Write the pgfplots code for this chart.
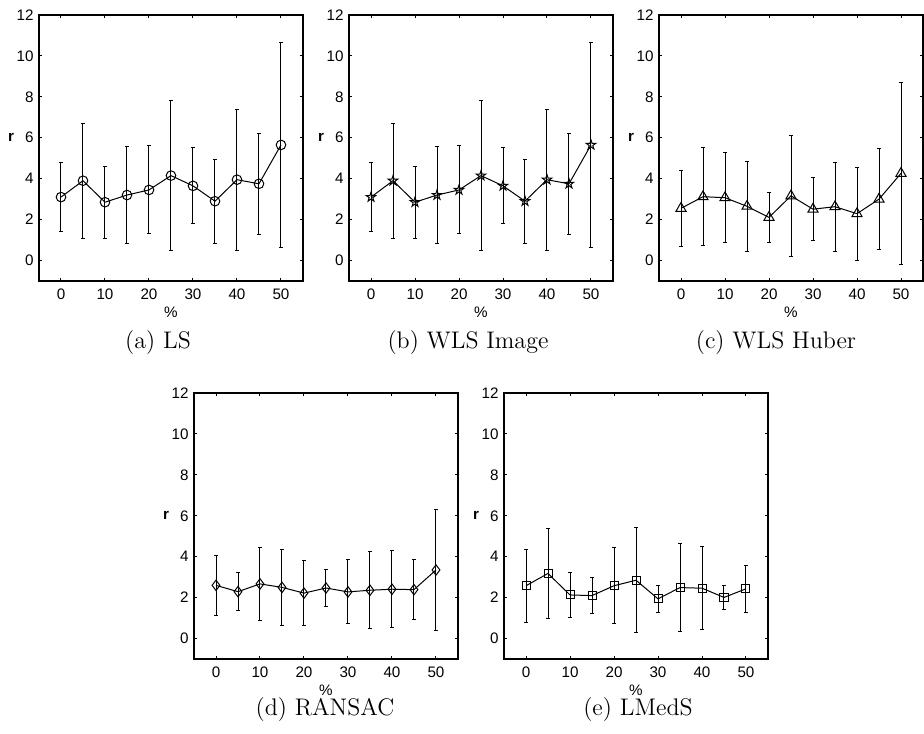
\documentclass[border=0pt]{standalone}
\usepackage{fontspec}
\setsansfont{Liberation Sans}
\usepackage{pgfplots}
\usepackage{pgfplotstable}
\pgfplotsset{compat=1.18}

% five-pointed star like matlab's 'p' marker
\pgfdeclareplotmark{pentagram}{%
  \pgfpathmoveto{\pgfpointpolar{90}{\pgfplotmarksize}}%
  \pgfpathlineto{\pgfpointpolar{126}{0.382\pgfplotmarksize}}%
  \pgfpathlineto{\pgfpointpolar{162}{\pgfplotmarksize}}%
  \pgfpathlineto{\pgfpointpolar{198}{0.382\pgfplotmarksize}}%
  \pgfpathlineto{\pgfpointpolar{234}{\pgfplotmarksize}}%
  \pgfpathlineto{\pgfpointpolar{270}{0.382\pgfplotmarksize}}%
  \pgfpathlineto{\pgfpointpolar{306}{\pgfplotmarksize}}%
  \pgfpathlineto{\pgfpointpolar{342}{0.382\pgfplotmarksize}}%
  \pgfpathlineto{\pgfpointpolar{18}{\pgfplotmarksize}}%
  \pgfpathlineto{\pgfpointpolar{54}{0.382\pgfplotmarksize}}%
  \pgfpathclose\pgfusepathqstroke}

% mean and std of r for each outlier percentage
\pgfplotstableread{
x  y    e
0  3.10 1.70
5  3.90 2.80
10 2.85 1.75
15 3.20 2.35
20 3.45 2.15
25 4.15 3.65
30 3.65 1.85
35 2.90 2.05
40 3.95 3.45
45 3.75 2.48
50 5.65 5.00
}\tabLS

\pgfplotstableread{
x  y    e
0  2.55 1.85
5  3.12 2.40
10 3.07 2.21
15 2.65 2.19
20 2.11 1.21
25 3.16 2.96
30 2.51 1.55
35 2.63 2.17
40 2.29 2.27
45 3.00 2.47
50 4.26 4.45
}\tabHuber

\pgfplotstableread{
x  y    e
0  2.60 1.47
5  2.29 0.93
10 2.67 1.79
15 2.50 1.85
20 2.22 1.57
25 2.47 0.88
30 2.28 1.56
35 2.36 1.88
40 2.41 1.89
45 2.39 1.47
50 3.35 2.95
}\tabRansac

\pgfplotstableread{
x  y    e
0  2.58 1.78
5  3.18 2.18
10 2.13 1.08
15 2.10 0.90
20 2.58 1.86
25 2.85 2.57
30 1.94 0.65
35 2.49 2.14
40 2.46 2.03
45 2.01 0.59
50 2.43 1.15
}\tabLMedS

\pgfplotsset{
  panel/.style={
    scale only axis, width=132pt, height=133pt,
    anchor=south west, clip=false,
    xmin=-5, xmax=55, ymin=-1, ymax=12,
    xtick={0,10,...,50}, ytick={0,2,...,12},
    tick align=inside, major tick length=1.7pt,
    every tick/.style={black, line width=0.5pt},
    axis line style={line width=1pt},
    tick label style={font=\fontsize{7.6}{9}\selectfont\sffamily,
      /pgf/number format/assume math mode=true},
    xticklabel style={inner sep=0pt, yshift=-3.8pt},
    yticklabel style={inner sep=0pt, xshift=-2.5pt},
  },
  ser/.style 2 args={black, line width=0.5pt, mark=#1, mark size=#2,
    mark options={solid, line width=0.5pt},
    error bars/y dir=both, error bars/y explicit,
    error bars/error bar style={line width=0.5pt, black},
    error bars/error mark options={rotate=90, mark size=0.9pt, line width=0.5pt}},
}
\newcommand{\labs}{%
  \node[font=\fontsize{7.6}{9}\selectfont\sffamily\bfseries] at (rel axis cs:0,0.54) [xshift=-14pt] {r};
  \node[font=\fontsize{7.6}{9}\selectfont\sffamily] at (rel axis cs:0.5,0) [yshift=-15.5pt] {\%};
}

\begin{document}
\begin{tikzpicture}
\path[use as bounding box] (0pt,0pt) rectangle (462pt,366.5pt);

% ---- top row ----
\begin{axis}[panel, at={(19.5pt,226pt)}]
\addplot[ser={o}{2.4pt}] table[x=x, y=y, y error=e] {\tabLS};
\labs
\end{axis}

\begin{axis}[panel, at={(174.5pt,226pt)}]
\addplot[ser={pentagram}{2.5pt}] table[x=x, y=y, y error=e] {\tabLS};
\labs
\end{axis}

\begin{axis}[panel, at={(329.5pt,226pt)}]
\addplot[ser={triangle}{2.9pt}] table[x=x, y=y, y error=e] {\tabHuber};
\labs
\end{axis}

% ---- bottom row ----
\begin{axis}[panel, at={(97pt,37pt)}]
\addplot[ser={diamond}{2.6pt}] table[x=x, y=y, y error=e] {\tabRansac};
\labs
\end{axis}

\begin{axis}[panel, at={(252pt,37pt)}]
\addplot[ser={square}{2pt}] table[x=x, y=y, y error=e] {\tabLMedS};
\labs
\end{axis}

% captions
\node[font=\fontsize{12}{14}\selectfont] at (79pt,195pt) {(a) LS};
\node[font=\fontsize{12}{14}\selectfont] at (234pt,195pt) {(b) WLS Image};
\node[font=\fontsize{12}{14}\selectfont] at (388pt,195pt) {(c) WLS Huber};
\node[font=\fontsize{12}{14}\selectfont] at (162.5pt,11.5pt) {(d) RANSAC};
\node[font=\fontsize{12}{14}\selectfont] at (319pt,11.5pt) {(e) LMedS};
\end{tikzpicture}
\end{document}
